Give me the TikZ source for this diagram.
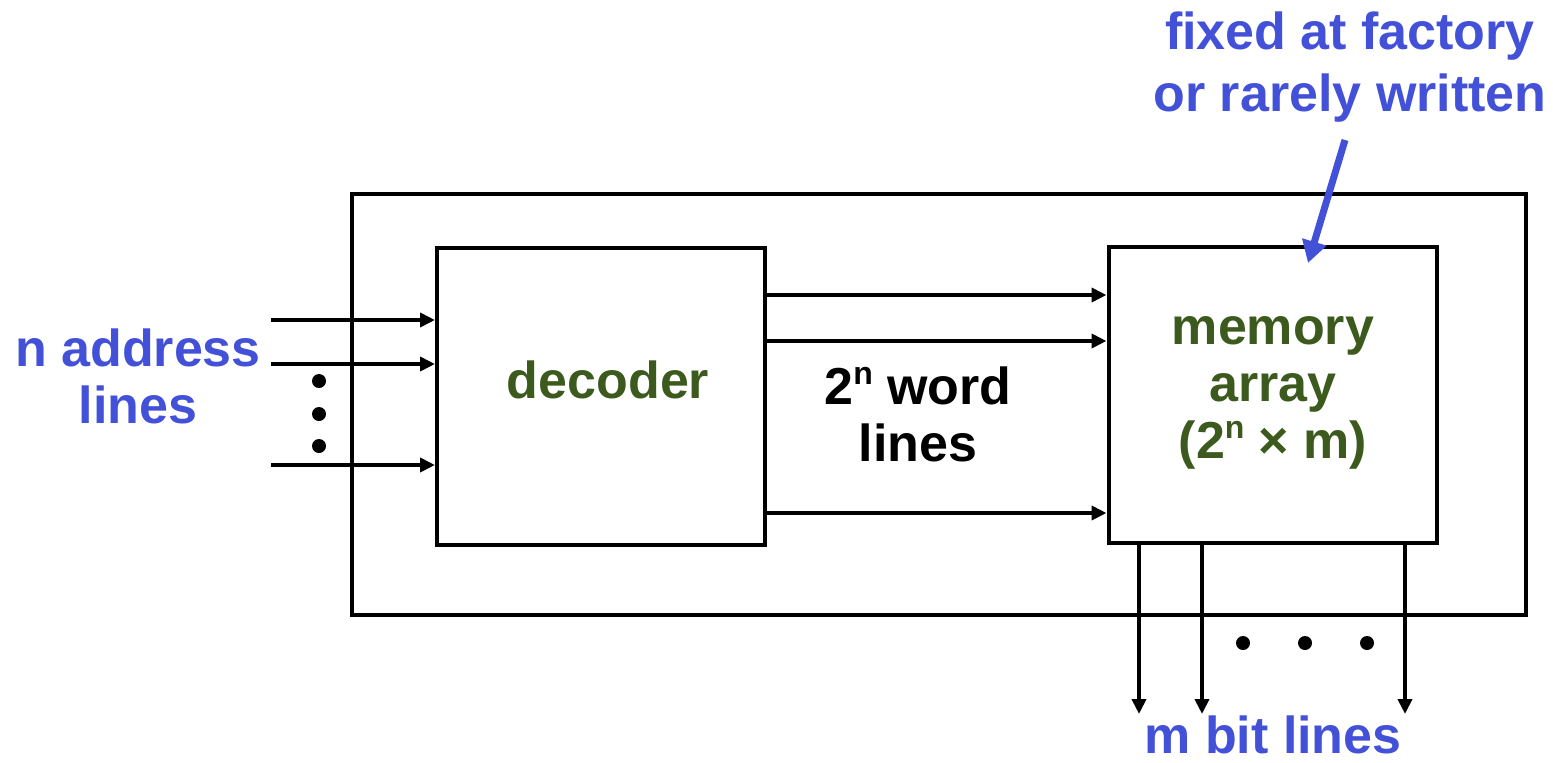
\documentclass[tikz,border=0pt]{standalone}
\usepackage{fontspec}
\setmainfont{Liberation Sans}
\usetikzlibrary{arrows.meta}
\definecolor{labelblue}{RGB}{67,80,216}
\definecolor{blockgreen}{RGB}{60,90,30}
% small raised exponent, top aligned with the digit
\newcommand{\expn}[1]{\raisebox{20pt}{\fontsize{32}{32}\selectfont #1}}
\tikzset{
  block/.style={draw, line width=4pt, minimum width=#1, inner sep=0pt},
  wire/.style={line width=4pt, -{Triangle[length=15pt,width=14pt]}},
  note/.style={text=labelblue, font=\bfseries\fontsize{52}{57}\selectfont, align=center, inner sep=0pt},
  inner/.style={text=blockgreen, font=\bfseries\fontsize{52}{57}\selectfont, align=center, inner sep=0pt},
  plain/.style={text=black, font=\bfseries\fontsize{52}{57}\selectfont, align=center, inner sep=0pt},
  dot/.style={circle, fill=black, minimum size=14pt, inner sep=0pt}
}
\begin{document}
\begin{tikzpicture}[x=1pt,y=-1pt]
\useasboundingbox (0,0) rectangle (1553,763);

% blocks
\node[block=1174pt, minimum height=421pt] (rom) at (939,404.5) {};
\node[block=328pt, minimum height=297pt] (dec) at (601,396.5) {};
\node[block=328pt, minimum height=296pt] (mem) at (1272.5,395) {};

\node[inner] (dectxt) at (608,380) {decoder};
\node[inner] (memtxt) at (1273,393) {memory\\array\\(2\expn{n} × m)};
\node[plain] (wordtxt) at (918,414) {2\expn{n} word\\lines};

% address inputs
\coordinate (a1) at (271,320);
\coordinate (a2) at (271,364);
\coordinate (a3) at (271,465);
\foreach \a in {a1,a2,a3} \draw[wire] (\a) -- (\a -| dec.west);
\node[dot] (ad1) at (319,381) {};
\node[dot] (ad2) at (319,414) {};
\node[dot] (ad3) at (319,446) {};
\node[note] (addr) at (138,376) {n address\\lines};

% word lines
\coordinate (w1) at (0,295);
\coordinate (w2) at (0,341);
\coordinate (w3) at (0,513);
\foreach \w in {w1,w2,w3} \draw[wire] (dec.east |- \w) -- (mem.west |- \w);

% bit lines
\coordinate (b1) at (1139,714);
\coordinate (b2) at (1202,714);
\coordinate (b3) at (1405,714);
\foreach \b in {b1,b2,b3} \draw[wire] (mem.south -| \b) -- (\b);
\node[dot] (bd1) at (1243,643) {};
\node[dot] (bd2) at (1305,643) {};
\node[dot] (bd3) at (1367,643) {};
\node[note] (bits) at (1273,735) {m bit lines};

% annotation
\node[note, font=\bfseries\fontsize{52}{62}\selectfont] (fixed) at (1350,67) {fixed at factory\\or rarely written};
\coordinate (ftail) at (1345,140);
\coordinate (fhead) at (1308,263);
\draw[labelblue, line width=7pt, -{Triangle[length=22pt,width=24pt]}] (ftail) -- (fhead);
\end{tikzpicture}
\end{document}
